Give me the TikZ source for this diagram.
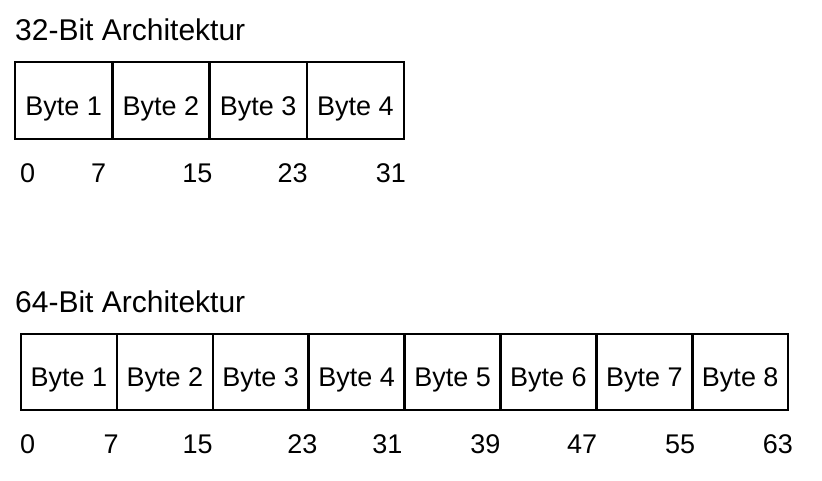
\documentclass[tikz,border=0pt]{standalone}
\usepackage{fontspec}
\setmainfont{Liberation Sans}
\usetikzlibrary{positioning}
\begin{document}
\begin{tikzpicture}[x=1pt,y=-1pt,
  heading/.style={inner sep=0pt, font=\fontsize{30}{36}\selectfont},
  cell/.style={draw, line width=2.5pt, inner sep=0pt, outer sep=0pt,
    text height=29pt, text depth=0pt, font=\fontsize{27}{32}\selectfont},
  bitnum/.style={inner sep=0pt, font=\fontsize{27}{32}\selectfont}]
  \useasboundingbox (0,0) rectangle (822,480);

  % 32-Bit Architektur
  \node[heading, anchor=base west] (titel32) at (15,40) {32-Bit Architektur};
  \node[cell, minimum width=97.25pt, minimum height=77pt, anchor=north west] (a1) at (15,62) {Byte 1};
  \foreach \i [remember=\i as \j (initially 1)] in {2,...,4}
    \node[cell, minimum width=97.25pt, minimum height=77pt, right=0pt of a\j] (a\i) {Byte \i};

  % Bitnummern 32
  \node[bitnum, anchor=base west] (na0) at (20,182) {0};
  \foreach \i/\n/\dx in {1/7/-6,2/15/3,3/23/1,4/31/2}
    \node[bitnum, anchor=base east] (na\n) at ([xshift=\dx pt]a\i.east |- na0.base) {\n};

  % 64-Bit Architektur
  \node[heading, anchor=base west] (titel64) at (15,312) {64-Bit Architektur};
  \node[cell, minimum width=95.9pt, minimum height=76pt, anchor=north west] (b1) at (21,334) {Byte 1};
  \foreach \i [remember=\i as \j (initially 1)] in {2,...,8}
    \node[cell, minimum width=95.9pt, minimum height=76pt, right=0pt of b\j] (b\i) {Byte \i};

  % Bitnummern 64
  \node[bitnum, anchor=base west] (nb0) at (20,453) {0};
  \foreach \i/\n/\dx in {1/7/2,2/15/0,3/23/9,4/31/-2,5/39/0,6/47/1,7/55/3,8/63/5}
    \node[bitnum, anchor=base east] (nb\n) at ([xshift=\dx pt]b\i.east |- nb0.base) {\n};
\end{tikzpicture}
\end{document}
